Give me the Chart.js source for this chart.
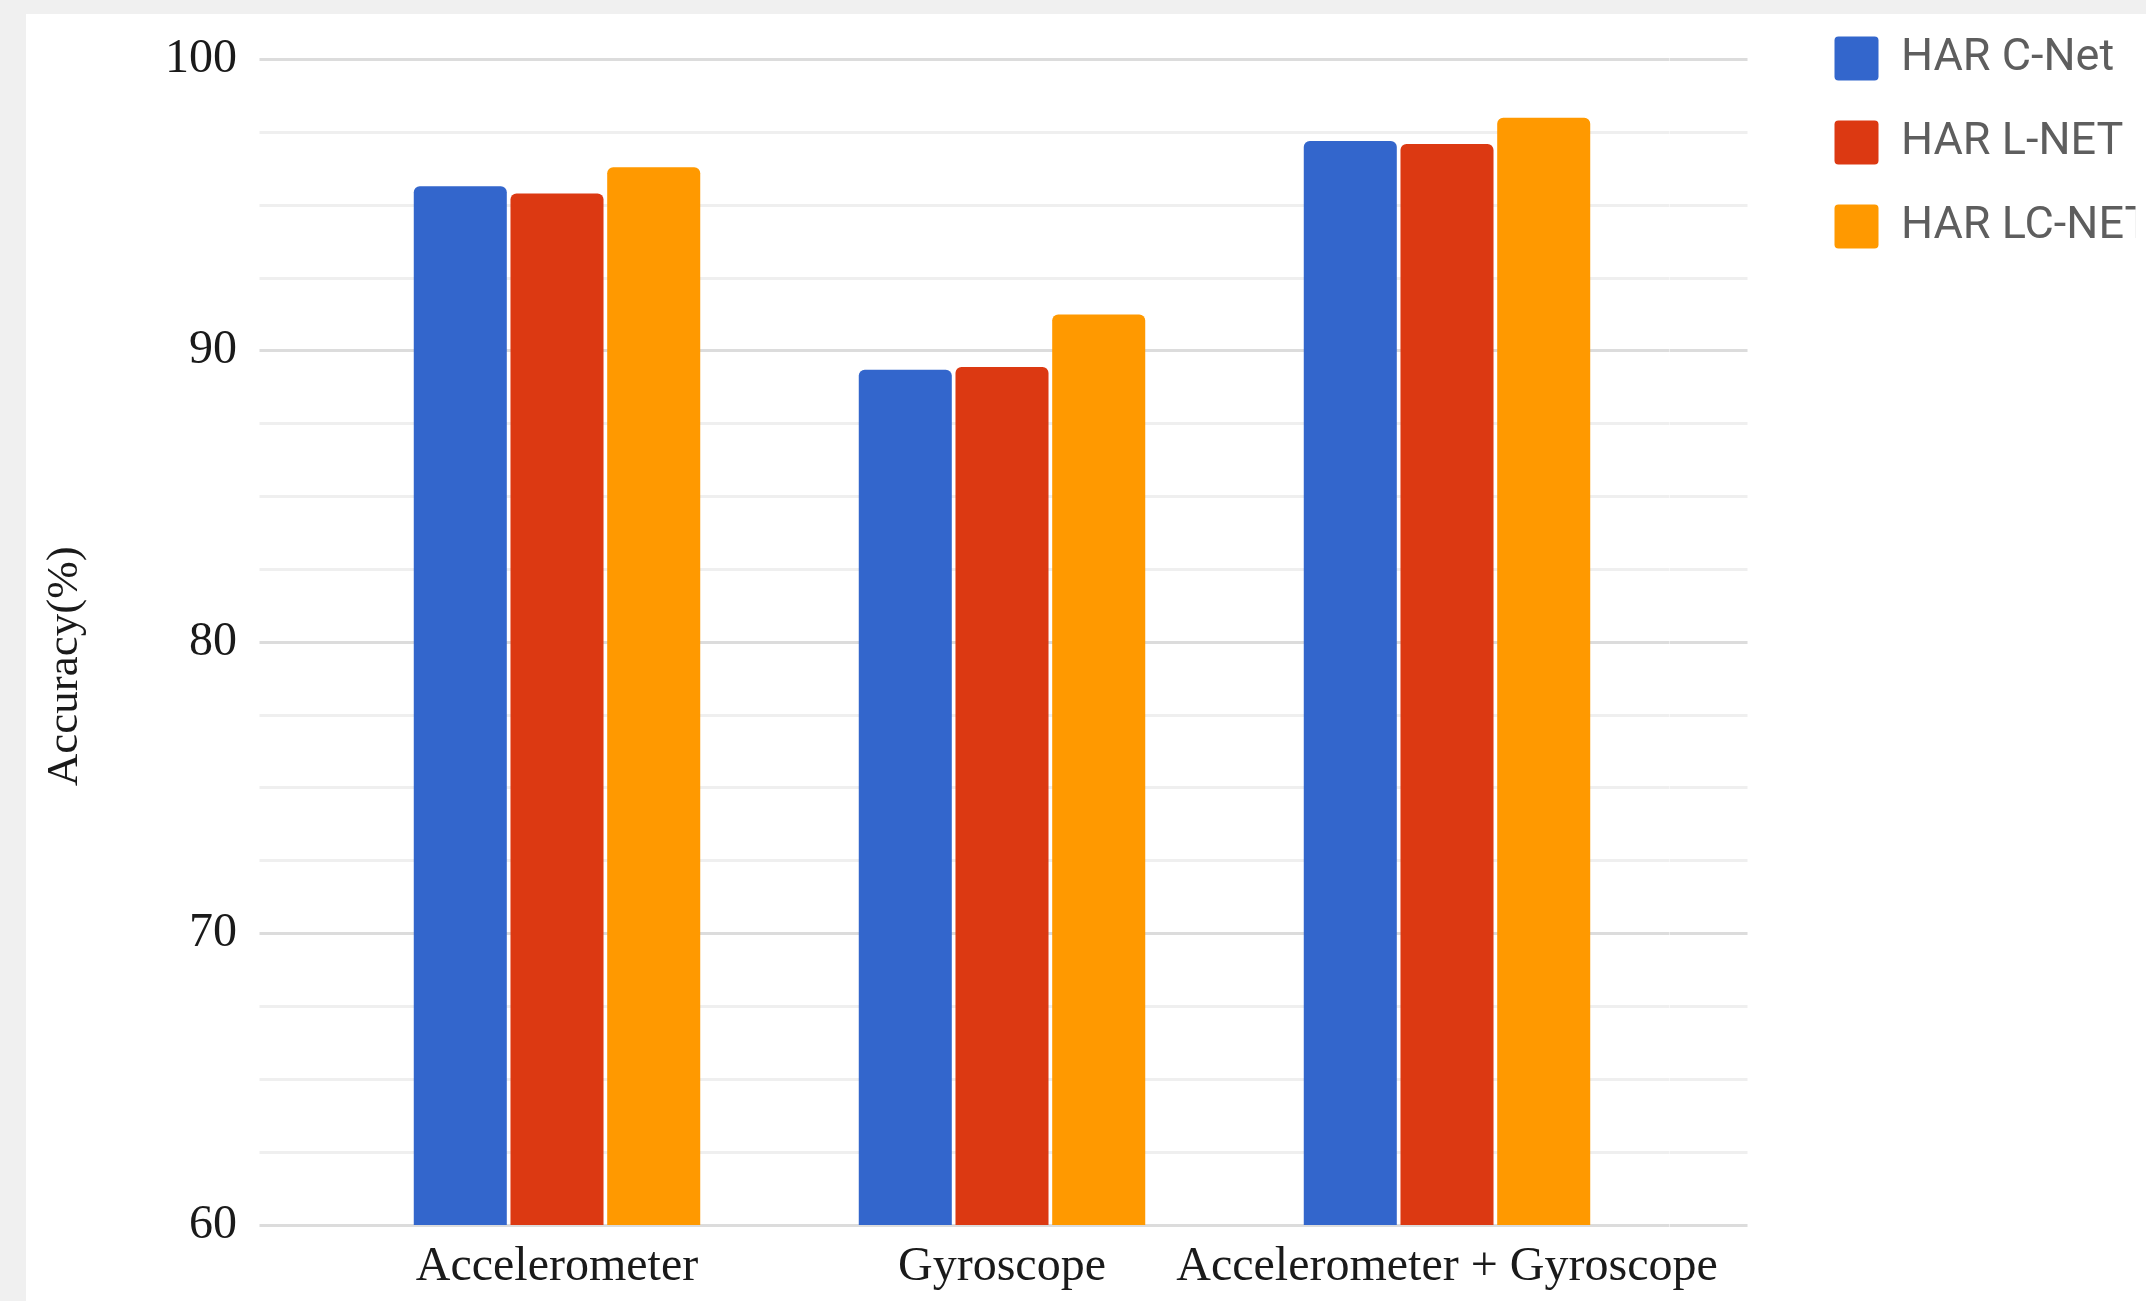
<!DOCTYPE html>
<html>
<head>
<meta charset="utf-8">
<title>HAR accuracy by sensor input</title>
<script src="https://cdn.jsdelivr.net/npm/chart.js@4.4.1/dist/chart.umd.min.js"></script>
<style>
  html, body { margin: 0; padding: 0; width: 2146px; height: 1301px; overflow: hidden; background: #f0f0f0; }
  #panel { position: absolute; left: 26px; top: 14px; right: 0; bottom: 0; background: #ffffff; overflow: hidden; }
  #chart { position: absolute; left: 0; top: -17px; width: 2174px; height: 1308px; }
</style>
</head>
<body>
<div id="panel"><canvas id="chart" width="2174" height="1308"></canvas></div>
<script>
// Sensor inputs on the x axis
const categories = ['Accelerometer', 'Gyroscope', 'Accelerometer + Gyroscope'];

// Accuracy (%) per model
const seriesNames = ['HAR C-Net', 'HAR L-NET', 'HAR LC-NET'];
const cNetAccuracy  = [95.65, 89.35, 97.2];
const lNetAccuracy  = [95.4, 89.45, 97.1];
const lcNetAccuracy = [96.3, 91.25, 98.0];

// Value axis
const yMin = 60;
const yMax = 100;
const yStep = 2.5;
const yLabelledTicks = [60, 70, 80, 90, 100];
const yTitle = 'Accuracy(%)';

const colors = ['#3366cc', '#dc3912', '#ff9900'];
const serif = "'Liberation Serif', 'DejaVu Serif', serif";
const textColor = '#1a1a1a';
const gridMajor = '#dcdcdc';
const gridMinor = '#efefef';

const gridColor = (ctx) => (ctx.tick && yLabelledTicks.includes(ctx.tick.value)) ? gridMajor : gridMinor;

const makeDataset = (label, data, color) => ({
  label,
  data,
  backgroundColor: color,
  borderWidth: 0,
  borderRadius: 6,
  categoryPercentage: 0.652,
  barPercentage: 0.962
});

// Vertical axis title, drawn a little below the middle of the plot
const axisTitlePlugin = {
  id: 'axisTitle',
  afterDraw(chart) {
    const { ctx, chartArea } = chart;
    const yScale = chart.scales.y;
    const size = 45;
    const x = yScale.left + size * 1.2 / 2 + 12;
    const y = (chartArea.top + chartArea.bottom) / 2 + 24;
    ctx.save();
    ctx.translate(x, y);
    ctx.rotate(-Math.PI / 2);
    ctx.font = size + 'px ' + serif;
    ctx.fillStyle = textColor;
    ctx.textAlign = 'center';
    ctx.textBaseline = 'middle';
    ctx.fillText(yTitle, 0, 0);
    ctx.restore();
  }
};

new Chart(document.getElementById('chart'), {
  type: 'bar',
  data: {
    labels: categories,
    datasets: [
      makeDataset(seriesNames[0], cNetAccuracy, colors[0]),
      makeDataset(seriesNames[1], lNetAccuracy, colors[1]),
      makeDataset(seriesNames[2], lcNetAccuracy, colors[2])
    ]
  },
  plugins: [axisTitlePlugin],
  options: {
    responsive: false,
    devicePixelRatio: 1,
    animation: false,
    layout: { padding: { left: 0, top: 0, right: 64.5, bottom: 0 } },
    plugins: {
      tooltip: { enabled: false },
      legend: {
        position: 'right',
        align: 'start',
        maxWidth: 340,
        labels: {
          boxWidth: 44,
          boxHeight: 44,
          padding: 39,
          useBorderRadius: true,
          borderRadius: 4,
          color: '#5e5e5e',
          font: { family: "Roboto, 'Noto Sans', sans-serif", size: 45 }
        }
      }
    },
    scales: {
      x: {
        type: 'category',
        offset: true,
        grid: { display: false, drawTicks: false },
        border: { display: false },
        ticks: {
          padding: 14,
          color: textColor,
          autoSkip: false,
          maxRotation: 0,
          font: { family: serif, size: 48 }
        },
        afterFit: (scale) => { scale.height = 80; }
      },
      y: {
        type: 'linear',
        position: 'left',
        min: yMin,
        max: yMax,
        border: { display: false },
        grid: {
          color: gridColor,
          lineWidth: 3,
          drawTicks: true,
          tickLength: 75
        },
        ticks: {
          stepSize: yStep,
          autoSkip: false,
          padding: 22.5,
          color: textColor,
          font: { family: serif, size: 48 },
          callback: (value) => yLabelledTicks.includes(value) ? String(value) : ''
        },
        title: { display: false },
        afterFit: (scale) => {
          scale.width = 308.5;
          scale.paddingTop = 62.5;
          scale.paddingBottom = 0;
        }
      },
      yRight: {
        type: 'linear',
        position: 'right',
        min: yMin,
        max: yMax,
        border: { display: false },
        grid: {
          color: gridColor,
          lineWidth: 3,
          drawOnChartArea: false,
          drawTicks: true,
          tickLength: 78
        },
        ticks: { stepSize: yStep, autoSkip: false, display: false },
        afterFit: (scale) => {
          scale.width = 126;
          scale.paddingTop = 0;
          scale.paddingBottom = 0;
        }
      }
    }
  }
});
</script>
</body>
</html>
